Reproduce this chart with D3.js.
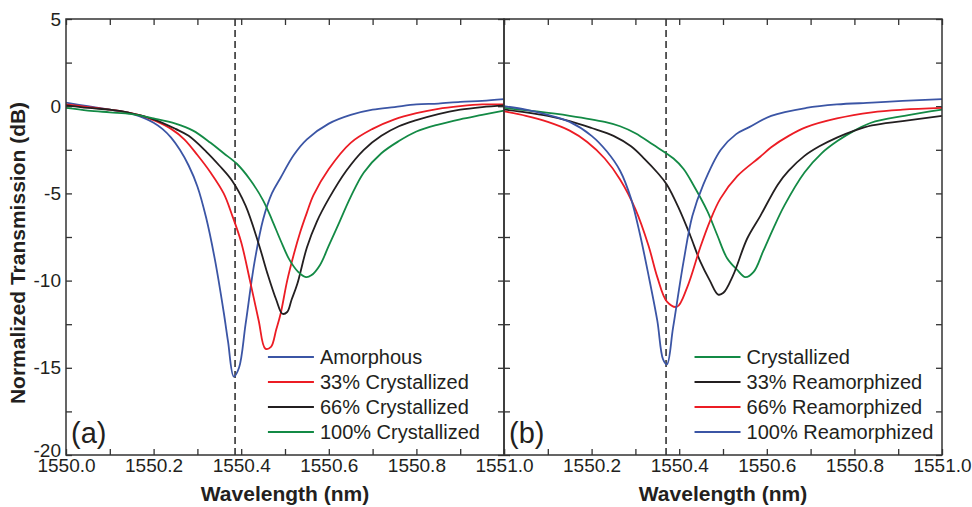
<!DOCTYPE html>
<html>
<head>
<meta charset="utf-8">
<script src="https://cdn.jsdelivr.net/npm/d3@7"></script>
<style>
  body { margin: 0; background: #fff; }
  svg { font-family: "Liberation Sans", Arial, sans-serif; }
  .tick text { font-size: 19px; fill: #231f20; }
  .tick line { stroke: #333; stroke-width: 1.3; }
  .legend text { font-size: 20px; fill: #231f20; }
  .title { font-size: 21px; font-weight: bold; fill: #231f20; }
</style>
</head>
<body>
<div id="chart"></div>
<script>
// wavelength offsets are in nm above 1550.0, transmission in dB
var wlBase = 1550;

// panel (a)
var amorphous = [[0,0.2],[0.05,0],[0.1,-0.2],[0.14,-0.35],[0.18,-0.7],[0.2,-0.95],[0.22,-1.3],[0.24,-1.8],[0.26,-2.5],[0.28,-3.4],[0.3,-4.6],[0.32,-6.4],[0.34,-8.8],[0.36,-11.8],[0.37,-13.5],[0.383,-15.5],[0.395,-15.0],[0.41,-12.5],[0.43,-9.0],[0.45,-6.5],[0.47,-5.0],[0.49,-4.1],[0.52,-2.8],[0.55,-1.9],[0.6,-1.0],[0.65,-0.5],[0.7,-0.2],[0.75,-0.05],[0.8,0.1],[0.85,0.15],[0.9,0.25],[0.95,0.3],[1.0,0.4]];
var cryst33 = [[0,0.1],[0.05,-0.05],[0.1,-0.2],[0.14,-0.35],[0.18,-0.6],[0.2,-0.8],[0.24,-1.3],[0.27,-1.9],[0.3,-2.8],[0.33,-3.8],[0.36,-5.0],[0.38,-6.3],[0.4,-7.8],[0.42,-10.0],[0.44,-12.3],[0.455,-13.9],[0.468,-13.8],[0.48,-12.8],[0.49,-11.9],[0.505,-10.0],[0.52,-8.5],[0.535,-7.2],[0.55,-6.1],[0.565,-5.1],[0.6,-3.6],[0.65,-2.1],[0.7,-1.3],[0.75,-0.75],[0.8,-0.4],[0.85,-0.15],[0.9,0.0],[0.95,0.1],[1.0,0.1]];
var cryst66 = [[0,0.05],[0.05,-0.1],[0.1,-0.2],[0.14,-0.35],[0.2,-0.75],[0.25,-1.3],[0.28,-1.7],[0.32,-2.6],[0.35,-3.4],[0.38,-4.3],[0.41,-5.7],[0.44,-7.9],[0.46,-9.6],[0.48,-11.1],[0.494,-11.9],[0.505,-11.8],[0.515,-11.1],[0.528,-10.2],[0.55,-8.1],[0.573,-6.6],[0.6,-5.3],[0.64,-3.7],[0.68,-2.5],[0.72,-1.7],[0.76,-1.15],[0.8,-0.8],[0.85,-0.45],[0.9,-0.2],[0.95,-0.05],[1.0,0.05]];
var cryst100 = [[0,-0.1],[0.05,-0.25],[0.1,-0.35],[0.15,-0.45],[0.2,-0.7],[0.25,-1.0],[0.29,-1.4],[0.33,-2.1],[0.36,-2.7],[0.39,-3.3],[0.42,-4.2],[0.45,-5.4],[0.47,-6.5],[0.49,-7.7],[0.51,-8.8],[0.53,-9.5],[0.548,-9.8],[0.56,-9.7],[0.58,-9.1],[0.6,-8.0],[0.625,-6.6],[0.65,-5.2],[0.68,-3.8],[0.72,-2.7],[0.76,-2.0],[0.8,-1.45],[0.85,-1.05],[0.9,-0.75],[0.95,-0.5],[1.0,-0.25]];

// panel (b)
var crystallized = [[0,-0.1],[0.075,-0.3],[0.15,-0.55],[0.23,-0.9],[0.265,-1.15],[0.3,-1.55],[0.34,-2.2],[0.387,-3.0],[0.41,-3.6],[0.432,-4.5],[0.464,-6.0],[0.487,-7.4],[0.509,-8.7],[0.533,-9.4],[0.551,-9.8],[0.57,-9.5],[0.592,-8.3],[0.615,-7.0],[0.64,-5.7],[0.686,-3.8],[0.725,-2.7],[0.761,-2.0],[0.8,-1.4],[0.838,-0.95],[0.914,-0.55],[1.0,-0.2]];
var ream33 = [[0,-0.2],[0.05,-0.35],[0.1,-0.55],[0.15,-0.85],[0.2,-1.25],[0.25,-1.7],[0.29,-2.3],[0.32,-3.0],[0.35,-3.8],[0.372,-4.5],[0.4,-5.9],[0.425,-7.4],[0.448,-8.9],[0.47,-10.0],[0.489,-10.8],[0.501,-10.7],[0.523,-9.7],[0.555,-7.6],[0.585,-6.3],[0.625,-4.5],[0.65,-3.7],[0.686,-2.85],[0.72,-2.3],[0.76,-1.8],[0.8,-1.4],[0.84,-1.1],[0.91,-0.85],[1.0,-0.55]];
var ream66 = [[0,-0.3],[0.05,-0.55],[0.1,-0.9],[0.15,-1.4],[0.19,-2.05],[0.23,-3.0],[0.265,-4.2],[0.3,-5.9],[0.33,-8.0],[0.35,-9.8],[0.372,-11.2],[0.395,-11.5],[0.418,-10.4],[0.448,-8.1],[0.47,-6.6],[0.494,-5.3],[0.533,-4.0],[0.585,-2.9],[0.61,-2.35],[0.65,-1.7],[0.69,-1.2],[0.76,-0.7],[0.84,-0.35],[0.91,-0.2],[1.0,-0.1]];
var ream100 = [[0,0.0],[0.05,-0.2],[0.1,-0.5],[0.15,-0.9],[0.2,-1.7],[0.235,-2.6],[0.265,-3.7],[0.29,-5.3],[0.31,-7.3],[0.33,-9.7],[0.35,-12.3],[0.363,-14.5],[0.372,-14.8],[0.386,-12.7],[0.41,-8.9],[0.43,-6.3],[0.455,-4.5],[0.495,-2.5],[0.53,-1.6],[0.56,-1.2],[0.61,-0.55],[0.69,-0.1],[0.76,0.1],[0.84,0.2],[0.91,0.3],[1.0,0.4]];

var labelsA = ["Amorphous", "33% Crystallized", "66% Crystallized", "100% Crystallized"];
var labelsB = ["Crystallized", "33% Reamorphized", "66% Reamorphized", "100% Reamorphized"];
var dashedA = 0.386, dashedB = 0.370;   // resonance marker

var xTicks = d3.range(0, 11).map(function(i) { return i / 10; });
var yTicks = [5, 2.5, 0, -2.5, -5, -7.5, -10, -12.5, -15, -17.5, -20];

var blue = "#3b55a5", red = "#ec1c24", black = "#231f20", green = "#138a45";

var width = 972, height = 507;
var top_ = 19, bottom = 455, panelW = 438;

var svg = d3.select("#chart").append("svg")
    .attr("width", width).attr("height", height);

var y = d3.scaleLinear().domain([-20, 5]).range([bottom, top_]);

function drawPanel(x0, series, colors, labels, tag, dashWl, legendWl, showY) {
    var x = d3.scaleLinear().domain([0, 1]).range([x0, x0 + panelW]);
    var g = svg.append("g");

    // bottom ticks + labels
    g.append("g")
        .attr("transform", "translate(0," + bottom + ")")
        .call(d3.axisBottom(x).tickValues(xTicks).tickSize(-6).tickPadding(4)
            .tickFormat(function(d) {
                var i = Math.round(d * 10);
                if (i % 2) return "";
                if (!showY && i == 0) return "";
                return (wlBase + d).toFixed(1);
            }))
        .call(function(a) { a.select(".domain").remove(); });
    // top ticks
    g.append("g")
        .attr("transform", "translate(0," + top_ + ")")
        .call(d3.axisTop(x).tickValues(xTicks).tickSize(-6).tickFormat(""))
        .call(function(a) { a.select(".domain").remove(); });
    // left / right ticks
    g.append("g")
        .attr("transform", "translate(" + x0 + ",0)")
        .call(d3.axisLeft(y).tickValues(yTicks).tickSize(-6).tickPadding(5)
            .tickFormat(function(d) { return (showY && d % 5 == 0) ? d : ""; }))
        .call(function(a) { a.select(".domain").remove(); })
        .selectAll("text").attr("dy", function(d) { return d == -20 ? "0.1em" : "0.32em"; });
    g.append("g")
        .attr("transform", "translate(" + (x0 + panelW) + ",0)")
        .call(d3.axisRight(y).tickValues(yTicks).tickSize(-6).tickFormat(""))
        .call(function(a) { a.select(".domain").remove(); });

    // dashed marker
    g.append("line")
        .attr("x1", x(dashWl)).attr("x2", x(dashWl))
        .attr("y1", top_).attr("y2", bottom)
        .attr("stroke", "#333").attr("stroke-width", 1.6)
        .attr("stroke-dasharray", "7,4");

    var line = d3.line()
        .x(function(d) { return x(d[0]); })
        .y(function(d) { return y(d[1]); })
        .curve(d3.curveCatmullRom.alpha(0.5));

    series.forEach(function(s, i) {
        g.append("path")
            .datum(s)
            .attr("fill", "none")
            .attr("stroke", colors[i])
            .attr("stroke-width", 1.8)
            .attr("d", line);
    });

    // frame
    g.append("rect")
        .attr("x", x0).attr("y", top_)
        .attr("width", panelW).attr("height", bottom - top_)
        .attr("fill", "none").attr("stroke", "#333").attr("stroke-width", 1.5);

    // legend
    var lx = x(legendWl);
    var leg = g.append("g").attr("class", "legend");
    labels.forEach(function(t, i) {
        var ly = 357 + i * 25;
        leg.append("line")
            .attr("x1", lx).attr("x2", lx + 46)
            .attr("y1", ly).attr("y2", ly)
            .attr("stroke", colors[i]).attr("stroke-width", 1.8);
        leg.append("text")
            .attr("x", lx + 52).attr("y", ly)
            .attr("dy", "0.35em")
            .text(t);
    });

    g.append("text")
        .attr("x", x0 + 5).attr("y", 443)
        .attr("font-size", 29).attr("fill", black)
        .text(tag);

    g.append("text")
        .attr("class", "title")
        .attr("x", x0 + panelW / 2).attr("y", 501)
        .attr("text-anchor", "middle")
        .text("Wavelength (nm)");
}

drawPanel(66, [amorphous, cryst33, cryst66, cryst100], [blue, red, black, green], labelsA, "(a)", dashedA, 0.461, true);
drawPanel(504, [crystallized, ream33, ream66, ream100], [green, black, red, blue], labelsB, "(b)", dashedB, 0.435, false);

svg.append("text")
    .attr("class", "title")
    .attr("transform", "translate(25," + ((top_ + bottom) / 2 + 16) + ") rotate(-90)")
    .attr("text-anchor", "middle")
    .text("Normalized Transmission (dB)");
</script>
</body>
</html>
